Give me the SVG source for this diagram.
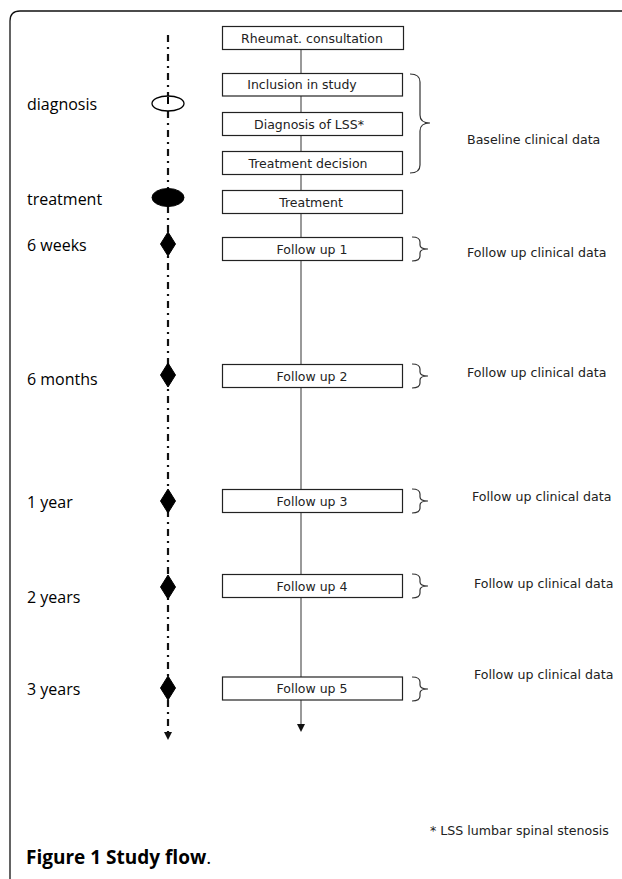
<svg xmlns="http://www.w3.org/2000/svg" width="622" height="879" viewBox="0 0 622 879">
<style>
.box{fill:#fff;stroke:#222;stroke-width:1.2}
.bt{font-family:"DejaVu Sans",sans-serif;font-size:12.5px;fill:#222;text-anchor:middle}
.lab{font-family:"Open Sans",sans-serif;font-size:16px;fill:#000}
.rt{font-family:"DejaVu Sans",sans-serif;font-size:12.6px;fill:#222}
.br{fill:none;stroke:#333;stroke-width:1.2}
.sym{fill:#000;stroke:#000}
</style>
<defs>
<marker id="ah" markerWidth="8" markerHeight="8" refX="6" refY="4" orient="auto" markerUnits="userSpaceOnUse"><path d="M0,0 L8,4 L0,8 Z" fill="#111"/></marker>
</defs>
<rect width="622" height="879" fill="#fff"/>
<path d="M10,879 V21 Q10,11 20,11 H622" fill="none" stroke="#111" stroke-width="1.3"/>
<g id="connectors">
<line x1="301" y1="49" x2="301" y2="730" stroke="#555" stroke-width="1.2" marker-end="url(#ah)"/>
<line x1="168" y1="35" x2="168" y2="738" stroke="#111" stroke-width="2.2" stroke-dasharray="7 5 2 5" marker-end="url(#ah)"/>
</g>
<g id="timeline">
<ellipse cx="168" cy="103.5" rx="16" ry="7.5" fill="#fff" stroke="#000" stroke-width="1.3"/>
<line x1="168" y1="97" x2="168" y2="104" stroke="#000" stroke-width="2"/>
<ellipse class="sym" cx="168" cy="197.5" rx="16" ry="9"/>
<path class="sym" d="M168,232 L175.5,244 L168,256 L160.5,244 Z"/>
<path class="sym" d="M168,363 L175.5,375 L168,387 L160.5,375 Z"/>
<path class="sym" d="M168,489 L175.5,501 L168,513 L160.5,501 Z"/>
<path class="sym" d="M168,575 L175.5,587 L168,599 L160.5,587 Z"/>
<path class="sym" d="M168,676 L175.5,688 L168,700 L160.5,688 Z"/>
</g>
<g id="labels">
<text class="lab" x="27" y="110">diagnosis</text>
<text class="lab" x="27" y="205">treatment</text>
<text class="lab" x="27" y="251">6 weeks</text>
<text class="lab" x="27" y="385">6 months</text>
<text class="lab" x="27" y="508">1 year</text>
<text class="lab" x="27" y="603">2 years</text>
<text class="lab" x="27" y="695">3 years</text>
</g>
<g id="n1"><rect class="box" x="222.5" y="26.5" width="181" height="23"/><text class="bt" x="312" y="42.5">Rheumat. consultation</text></g>
<g id="n2"><rect class="box" x="222.5" y="73.5" width="180" height="22.5"/><text class="bt" x="302" y="89">Inclusion in study</text></g>
<g id="n3"><rect class="box" x="222.5" y="112.5" width="180" height="23"/><text class="bt" x="309" y="128.5">Diagnosis of LSS*</text></g>
<g id="n4"><rect class="box" x="222.5" y="151.5" width="180" height="23"/><text class="bt" x="308" y="167.5">Treatment decision</text></g>
<g id="n5"><rect class="box" x="222.5" y="190.5" width="180" height="23"/><text class="bt" x="311" y="206.5">Treatment</text></g>
<g id="n6"><rect class="box" x="222.5" y="237.5" width="180" height="23"/><text class="bt" x="312" y="253.5">Follow up 1</text></g>
<g id="n7"><rect class="box" x="222.5" y="364.5" width="180" height="23"/><text class="bt" x="312" y="380.5">Follow up 2</text></g>
<g id="n8"><rect class="box" x="222.5" y="489.5" width="180" height="23"/><text class="bt" x="312" y="505.5">Follow up 3</text></g>
<g id="n9"><rect class="box" x="222.5" y="574.5" width="180" height="23"/><text class="bt" x="312" y="590.5">Follow up 4</text></g>
<g id="n10"><rect class="box" x="222.5" y="677" width="180" height="23"/><text class="bt" x="312" y="693">Follow up 5</text></g>
<g id="braces">
<path class="br" d="M410,74 Q420,74 420,82 V115 Q420,123 430,123 Q420,123 420,131 V165 Q420,173 410,173"/>
<path class="br" d="M412,237 Q420,237 420,242 V245 Q420,249 428,249 Q420,249 420,253 V256 Q420,261 412,261"/>
<path class="br" d="M412,364 Q420,364 420,369 V372 Q420,376 428,376 Q420,376 420,380 V383 Q420,388 412,388"/>
<path class="br" d="M412,489 Q420,489 420,494 V497 Q420,501 428,501 Q420,501 420,505 V508 Q420,513 412,513"/>
<path class="br" d="M412,574 Q420,574 420,579 V582 Q420,586 428,586 Q420,586 420,590 V593 Q420,598 412,598"/>
<path class="br" d="M412,677 Q420,677 420,682 V685 Q420,689 428,689 Q420,689 420,693 V696 Q420,701 412,701"/>
</g>
<g id="right">
<text class="rt" x="467" y="144">Baseline clinical data</text>
<text class="rt" x="467" y="257">Follow up clinical data</text>
<text class="rt" x="467" y="377">Follow up clinical data</text>
<text class="rt" x="472" y="501">Follow up clinical data</text>
<text class="rt" x="474" y="588">Follow up clinical data</text>
<text class="rt" x="474" y="679">Follow up clinical data</text>
<text class="rt" x="430" y="835" font-size="10.8">* LSS lumbar spinal stenosis</text>
</g>
<text x="26" y="864" font-family="Open Sans,sans-serif" font-size="19" fill="#000"><tspan font-weight="bold">Figure 1 Study flow</tspan>.</text>
</svg>
